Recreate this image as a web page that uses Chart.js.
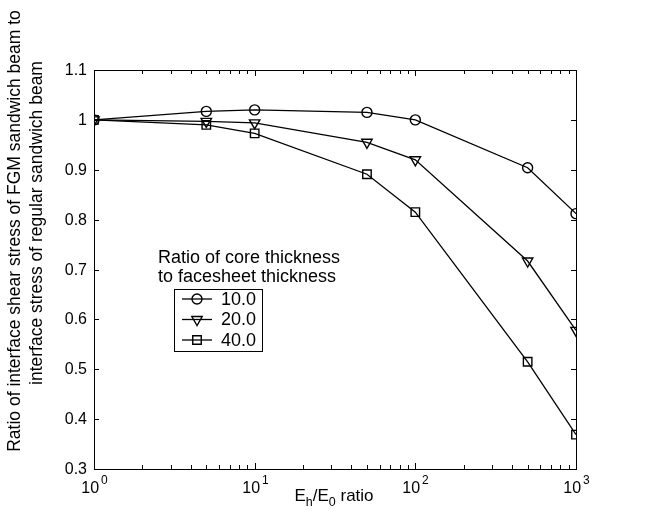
<!DOCTYPE html>
<html>
<head>
<meta charset="utf-8">
<script src="https://cdn.jsdelivr.net/npm/chart.js"></script>
<style>
html,body{margin:0;padding:0;background:#fff;}
#wrap{width:665px;height:516px;position:relative;}
</style>
</head>
<body>
<div id="wrap"><canvas id="c" width="665" height="516"></canvas></div>
<script>
const xValues = [1, 5, 10, 50, 100, 500, 1000];
const ratio10 = [1.0, 1.017, 1.02, 1.015, 1.0, 0.904, 0.812];
const ratio20 = [1.0, 0.997, 0.994, 0.955, 0.92, 0.717, 0.578];
const ratio40 = [1.0, 0.99, 0.973, 0.891, 0.815, 0.515, 0.369];
const seriesLabels = ['10.0', '20.0', '40.0'];
const yTicks = [0.3, 0.4, 0.5, 0.6, 0.7, 0.8, 0.9, 1.0, 1.1];
const yTickLabels = ['0.3', '0.4', '0.5', '0.6', '0.7', '0.8', '0.9', '1', '1.1'];
const xTickExponents = [0, 1, 2, 3];
const yTitle = ['Ratio of interface shear stress of FGM sandwich beam to', 'interface stress of regular sandwich beam'];
const legendTitle = ['Ratio of core thickness', 'to facesheet thickness'];

const FONT = '"Liberation Sans", Arial, sans-serif';
const styles = [
  {pointStyle: 'circle', rotation: 0, radius: 5},
  {pointStyle: 'triangle', rotation: 180, radius: 6},
  {pointStyle: 'rect', rotation: 0, radius: 6}
];

function mk(label, vals, i) {
  return {
    label: label,
    data: xValues.map((x, k) => ({x: x, y: vals[k]})),
    borderColor: '#000',
    backgroundColor: 'rgba(0,0,0,0)',
    borderWidth: 1.3,
    pointStyle: styles[i].pointStyle,
    pointRotation: styles[i].rotation,
    pointRadius: styles[i].radius,
    pointBorderWidth: 1.4,
    pointBorderColor: '#000',
    pointBackgroundColor: 'rgba(0,0,0,0)',
    tension: 0,
    fill: false
  };
}

const decor = {
  id: 'decor',
  afterDraw(chart) {
    const ctx = chart.ctx;
    const a = chart.chartArea;
    const xs = chart.scales.x, ys = chart.scales.y;
    ctx.save();
    ctx.strokeStyle = '#000';
    ctx.fillStyle = '#000';
    ctx.lineWidth = 1;
    // frame
    ctx.strokeRect(Math.round(a.left) + 0.5, Math.round(a.top) + 0.5, Math.round(a.right - a.left), Math.round(a.bottom - a.top));
    // y ticks
    ctx.font = '16px ' + FONT;
    ctx.textAlign = 'right';
    ctx.textBaseline = 'middle';
    yTicks.forEach((v, i) => {
      const py = Math.round(ys.getPixelForValue(v)) + 0.5;
      ctx.beginPath();
      ctx.moveTo(a.left, py); ctx.lineTo(a.left + 5, py);
      ctx.moveTo(a.right, py); ctx.lineTo(a.right - 5, py);
      ctx.stroke();
      ctx.fillText(yTickLabels[i], a.left - 7, py);
    });
    // x ticks
    xTickExponents.forEach((e, i) => {
      const base = Math.pow(10, e);
      const px = Math.round(xs.getPixelForValue(base)) + 0.5;
      ctx.beginPath();
      ctx.moveTo(px, a.bottom); ctx.lineTo(px, a.bottom - 6);
      ctx.moveTo(px, a.top); ctx.lineTo(px, a.top + 6);
      ctx.stroke();
      if (i < xTickExponents.length - 1) {
        for (let m = 2; m <= 9; m++) {
          const mx = Math.round(xs.getPixelForValue(m * base)) + 0.5;
          ctx.beginPath();
          ctx.moveTo(mx, a.bottom); ctx.lineTo(mx, a.bottom - 4);
          ctx.moveTo(mx, a.top); ctx.lineTo(mx, a.top + 4);
          ctx.stroke();
        }
      }
      ctx.font = '16px ' + FONT;
      const w1 = ctx.measureText('10').width;
      ctx.font = '12px ' + FONT;
      const w2 = ctx.measureText(String(e)).width;
      const start = px - (w1 + 2 + w2) / 2;
      ctx.textAlign = 'left';
      ctx.textBaseline = 'alphabetic';
      ctx.font = '16px ' + FONT;
      ctx.fillText('10', start, 493);
      ctx.font = '12px ' + FONT;
      ctx.fillText(String(e), start + w1 + 2, 484);
    });
    // x title  E_h/E_0 ratio
    {
      const parts = [['E', 17, 0], ['h', 12.5, 5], ['/E', 17, 0], ['0', 12.5, 5], [' ratio', 17, 0]];
      let total = 0;
      parts.forEach(p => { ctx.font = p[1] + 'px ' + FONT; total += ctx.measureText(p[0]).width; });
      let x = 334 - total / 2;
      ctx.textAlign = 'left';
      ctx.textBaseline = 'alphabetic';
      parts.forEach(p => {
        ctx.font = p[1] + 'px ' + FONT;
        ctx.fillText(p[0], x, 501 + p[2]);
        x += ctx.measureText(p[0]).width;
      });
    }
    // y title
    ctx.font = '17.5px ' + FONT;
    ctx.textAlign = 'center';
    ctx.textBaseline = 'middle';
    [[15, 231], [37, 223]].forEach((pos, i) => {
      ctx.save();
      ctx.translate(pos[0], pos[1]);
      ctx.rotate(-Math.PI / 2);
      ctx.fillText(yTitle[i], 0, 0);
      ctx.restore();
    });
    // legend title
    ctx.font = '18px ' + FONT;
    ctx.textAlign = 'left';
    ctx.textBaseline = 'middle';
    ctx.fillText(legendTitle[0], 158, 258);
    ctx.fillText(legendTitle[1], 158, 277);
    // legend box
    ctx.lineWidth = 1;
    ctx.strokeRect(174.5, 289.5, 88, 62);
    chart.data.datasets.forEach((ds, i) => {
      const cy = 299 + i * 20.5;
      ctx.lineWidth = 1.3;
      ctx.beginPath();
      ctx.moveTo(182, cy); ctx.lineTo(212, cy);
      ctx.stroke();
      ctx.lineWidth = 1.4;
      ctx.fillStyle = 'rgba(0,0,0,0)';
      Chart.helpers.drawPoint(ctx, {pointStyle: ds.pointStyle, rotation: ds.pointRotation, radius: ds.pointRadius, borderWidth: 1.4}, 197, cy);
      ctx.fillStyle = '#000';
      ctx.font = '18px ' + FONT;
      ctx.fillText(ds.label, 221, cy + 1);
    });
    ctx.restore();
  }
};

new Chart(document.getElementById('c'), {
  type: 'line',
  data: {
    datasets: [mk(seriesLabels[0], ratio10, 0), mk(seriesLabels[1], ratio20, 1), mk(seriesLabels[2], ratio40, 2)]
  },
  options: {
    responsive: false,
    animation: false,
    layout: {padding: {left: 94, right: 89, top: 70, bottom: 47}},
    plugins: {legend: {display: false}, tooltip: {enabled: false}},
    scales: {
      x: {type: 'logarithmic', min: 1, max: 1000, display: false},
      y: {type: 'linear', min: 0.3, max: 1.1, display: false}
    },
    elements: {line: {borderCapStyle: 'butt'}}
  },
  plugins: [decor]
});
</script>
</body>
</html>
